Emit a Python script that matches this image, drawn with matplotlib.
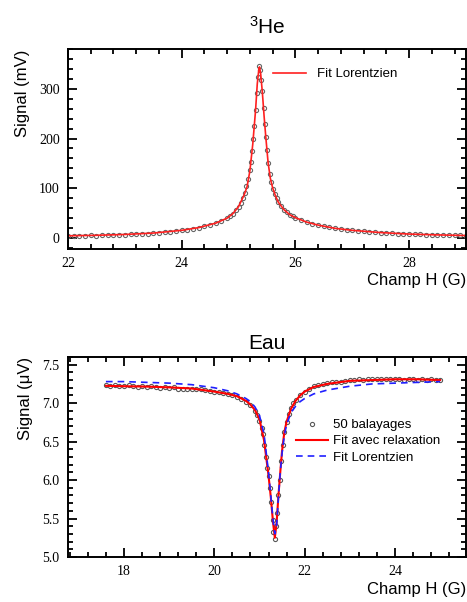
import matplotlib
matplotlib.use("Agg")
import matplotlib.pyplot as plt
from matplotlib.ticker import MultipleLocator

plt.rcParams['font.family'] = 'Liberation Sans'

# ---- 3He : signal (mV) vs champ H (G)
he_x = [22.0, 22.1, 22.2, 22.3, 22.4, 22.5, 22.6, 22.7, 22.8, 22.9,
        23.0, 23.1, 23.2, 23.3, 23.4, 23.5, 23.6, 23.7, 23.8, 23.9,
        24.0, 24.1, 24.2, 24.3, 24.4, 24.5, 24.6, 24.7, 24.8, 24.85,
        24.9, 24.95, 25.0, 25.04, 25.08, 25.11, 25.14, 25.17, 25.2, 25.22,
        25.24, 25.26, 25.28, 25.30, 25.32, 25.34, 25.36, 25.38, 25.40, 25.42,
        25.44, 25.46, 25.48, 25.50, 25.52, 25.55, 25.58, 25.61, 25.64, 25.67,
        25.7, 25.75, 25.8, 25.85, 25.9, 25.95, 26.0, 26.1, 26.2, 26.3,
        26.4, 26.5, 26.6, 26.7, 26.8, 26.9, 27.0, 27.1, 27.2, 27.3,
        27.4, 27.5, 27.6, 27.7, 27.8, 27.9, 28.0, 28.1, 28.2, 28.3,
        28.4, 28.5, 28.6, 28.7, 28.8, 28.9, 29.0]
he_y = [4.0, 4.5, 4.3, 5.0, 5.2, 5.0, 5.8, 6.0, 6.3, 6.5,
        7.0, 7.4, 8.0, 8.3, 9.0, 9.8, 10.8, 11.6, 12.8, 14.0,
        15.5, 17.0, 18.8, 21.0, 23.5, 26.5, 30.0, 34.5, 40.5, 44,
        49, 56, 63, 71, 80, 90, 104, 118, 136, 152,
        175, 200, 226, 257, 291, 324, 345, 338, 318, 295,
        262, 230, 203, 177, 150, 128, 113, 99, 88, 80,
        72, 64, 57, 52, 47, 44, 41, 36, 32, 29,
        26, 23.5, 21.5, 19.8, 18.2, 16.8, 15.5, 14.3, 13.2, 12.4,
        11.5, 10.8, 10.2, 9.6, 9.0, 8.5, 8.0, 7.6, 7.2, 6.9,
        6.6, 6.3, 6.0, 5.8, 5.5, 5.3, 5.1]

he_fit_x = [22.0, 22.5, 23.0, 23.5, 24.0, 24.3, 24.6, 24.8, 24.9, 25.0,
            25.1, 25.15, 25.2, 25.25, 25.3, 25.33, 25.36, 25.37, 25.39, 25.42,
            25.45, 25.48, 25.52, 25.56, 25.6, 25.65, 25.7, 25.8, 25.9, 26.0,
            26.2, 26.4, 26.7, 27.0, 27.5, 28.0, 28.5, 29.0]
he_fit_y = [4.5, 5.5, 7.2, 10.0, 15.5, 21, 30, 40, 49, 63,
            87, 103, 135, 188, 257, 310, 342, 344, 330, 292,
            245, 203, 152, 120, 101, 85, 72, 57, 47, 41,
            32, 26, 19.5, 15.5, 11, 8, 6.3, 5.1]

# ---- Eau : signal (uV) vs champ H (G)
eau_x = [17.6, 17.7, 17.8, 17.9, 18.0, 18.1, 18.2, 18.3, 18.4, 18.5,
         18.6, 18.7, 18.8, 18.9, 19.0, 19.1, 19.2, 19.3, 19.4, 19.5,
         19.6, 19.7, 19.8, 19.9, 20.0, 20.1, 20.2, 20.3, 20.4, 20.5,
         20.6, 20.7, 20.8, 20.9, 20.95, 21.0, 21.05, 21.08, 21.11, 21.14,
         21.17, 21.2, 21.23, 21.26, 21.29, 21.31, 21.34, 21.37, 21.39, 21.42,
         21.45, 21.48, 21.51, 21.55, 21.6, 21.65, 21.7, 21.75, 21.8, 21.9,
         22.0, 22.1, 22.2, 22.3, 22.4, 22.5, 22.6, 22.7, 22.8, 22.9,
         23.0, 23.1, 23.2, 23.3, 23.4, 23.5, 23.6, 23.7, 23.8, 23.9,
         24.0, 24.1, 24.2, 24.3, 24.4, 24.5, 24.6, 24.7, 24.8, 24.9, 25.0]
eau_y = [7.23, 7.22, 7.23, 7.22, 7.22, 7.23, 7.22, 7.21, 7.22, 7.21,
         7.22, 7.21, 7.20, 7.21, 7.20, 7.21, 7.19, 7.18, 7.18, 7.19,
         7.18, 7.18, 7.17, 7.16, 7.15, 7.14, 7.13, 7.12, 7.10, 7.08,
         7.05, 7.02, 6.97, 6.90, 6.84, 6.77, 6.68, 6.60, 6.45, 6.30,
         6.16, 6.05, 5.90, 5.72, 5.48, 5.33, 5.24, 5.40, 5.57, 5.80,
         6.00, 6.25, 6.45, 6.62, 6.76, 6.86, 6.94, 7.00, 7.04, 7.10,
         7.15, 7.19, 7.22, 7.24, 7.25, 7.26, 7.27, 7.27, 7.28, 7.29,
         7.30, 7.30, 7.31, 7.30, 7.31, 7.31, 7.31, 7.31, 7.32, 7.31,
         7.31, 7.31, 7.30, 7.31, 7.31, 7.30, 7.31, 7.30, 7.31, 7.30, 7.30]

relax_x = [17.6, 18.0, 18.5, 19.0, 19.5, 20.0, 20.3, 20.5, 20.7, 20.8,
           20.9, 21.0, 21.1, 21.2, 21.25, 21.3, 21.34, 21.38, 21.42, 21.46,
           21.5, 21.55, 21.6, 21.7, 21.8, 21.9, 22.0, 22.2, 22.5, 23.0,
           23.5, 24.0, 24.5, 25.0]
relax_y = [7.225, 7.22, 7.215, 7.205, 7.19, 7.15, 7.12, 7.09, 7.03, 6.98,
           6.91, 6.79, 6.52, 6.06, 5.78, 5.45, 5.25, 5.45, 5.80, 6.10,
           6.38, 6.62, 6.76, 6.93, 7.03, 7.10, 7.15, 7.21, 7.25, 7.29,
           7.30, 7.31, 7.31, 7.30]

lor_x = [17.6, 18.0, 18.5, 19.0, 19.5, 20.0, 20.3, 20.5, 20.7, 20.8,
         20.9, 21.0, 21.1, 21.2, 21.25, 21.3, 21.34, 21.38, 21.42, 21.46,
         21.5, 21.55, 21.6, 21.7, 21.8, 21.9, 22.0, 22.2, 22.5, 23.0,
         23.5, 24.0, 24.5, 25.0]
lor_y = [7.28, 7.28, 7.27, 7.26, 7.24, 7.20, 7.16, 7.12, 7.06, 7.02,
         6.95, 6.84, 6.60, 6.10, 5.80, 5.48, 5.30, 5.42, 5.78, 6.10,
         6.35, 6.58, 6.72, 6.88, 6.96, 7.02, 7.06, 7.12, 7.17, 7.22,
         7.25, 7.26, 7.27, 7.28]


def style_axes(ax, xmaj, xmin, ymaj, ymin):
    ax.xaxis.set_major_locator(MultipleLocator(xmaj))
    ax.xaxis.set_minor_locator(MultipleLocator(xmin))
    ax.yaxis.set_major_locator(MultipleLocator(ymaj))
    ax.yaxis.set_minor_locator(MultipleLocator(ymin))
    ax.tick_params(which='both', direction='in', top=True, right=True,
                   width=1.3, labelsize=10, pad=6,
                   labelfontfamily='Liberation Serif')
    ax.tick_params(which='major', length=6.5)
    ax.tick_params(which='minor', length=3.5)
    for s in ax.spines.values():
        s.set_linewidth(1.4)


fig = plt.figure(figsize=(4.67, 6.02), dpi=100)

# ---- haut
ax1 = fig.add_axes([0.1456, 0.5864, 0.852, 0.3322])
ax1.plot(he_x, he_y, 'o', ms=3, mfc='none', mec='0.4', mew=0.8)
ax1.plot(he_fit_x, he_fit_y, color='#ff2020', lw=1.2, label='Fit Lorentzien')
ax1.set_xlim(22, 29)
ax1.set_ylim(-22, 380)
style_axes(ax1, 2, 0.4, 100, 20)
ax1.set_title(r'$\mathregular{^3}$He', fontsize=15, pad=11)
ax1.set_ylabel('Signal (mV)', fontsize=12, loc='top')
ax1.yaxis.set_label_coords(-0.095, 0.995)
ax1.set_xlabel('Champ H (G)', fontsize=12, loc='right')
ax1.xaxis.set_label_coords(1.0, -0.12)
ax1.legend(loc='center left', bbox_to_anchor=(0.516, 0.875), frameon=False,
           fontsize=9.5, handlelength=2.5, handletextpad=0.8,
           borderpad=0, borderaxespad=0)

# ---- bas
ax2 = fig.add_axes([0.1456, 0.0748, 0.852, 0.3322])
ax2.plot(eau_x, eau_y, 'o', ms=3, mfc='none', mec='0.35', mew=0.8,
         label='50 balayages')
ax2.plot(relax_x, relax_y, color='#ff0000', lw=1.5, label='Fit avec relaxation')
ax2.plot(lor_x, lor_y, color='#2020ff', lw=1.2, ls=(0, (4, 3)),
         label='Fit Lorentzien')
ax2.set_xlim(16.76, 25.57)
ax2.set_ylim(5.0, 7.6)
style_axes(ax2, 2, 0.4, 0.5, 0.1)
ax2.set_title('Eau', fontsize=15, pad=6)
ax2.set_ylabel('Signal (\u03bcV)', fontsize=12, loc='top')
ax2.yaxis.set_label_coords(-0.088, 1.0)
ax2.set_xlabel('Champ H (G)', fontsize=12, loc='right')
ax2.xaxis.set_label_coords(1.0, -0.123)
ax2.legend(loc='center left', bbox_to_anchor=(0.574, 0.578), frameon=False,
           fontsize=9.5, handlelength=2.4, handletextpad=0.4, labelspacing=0.3,
           borderpad=0, borderaxespad=0)

fig.savefig('out.png', dpi=100)
